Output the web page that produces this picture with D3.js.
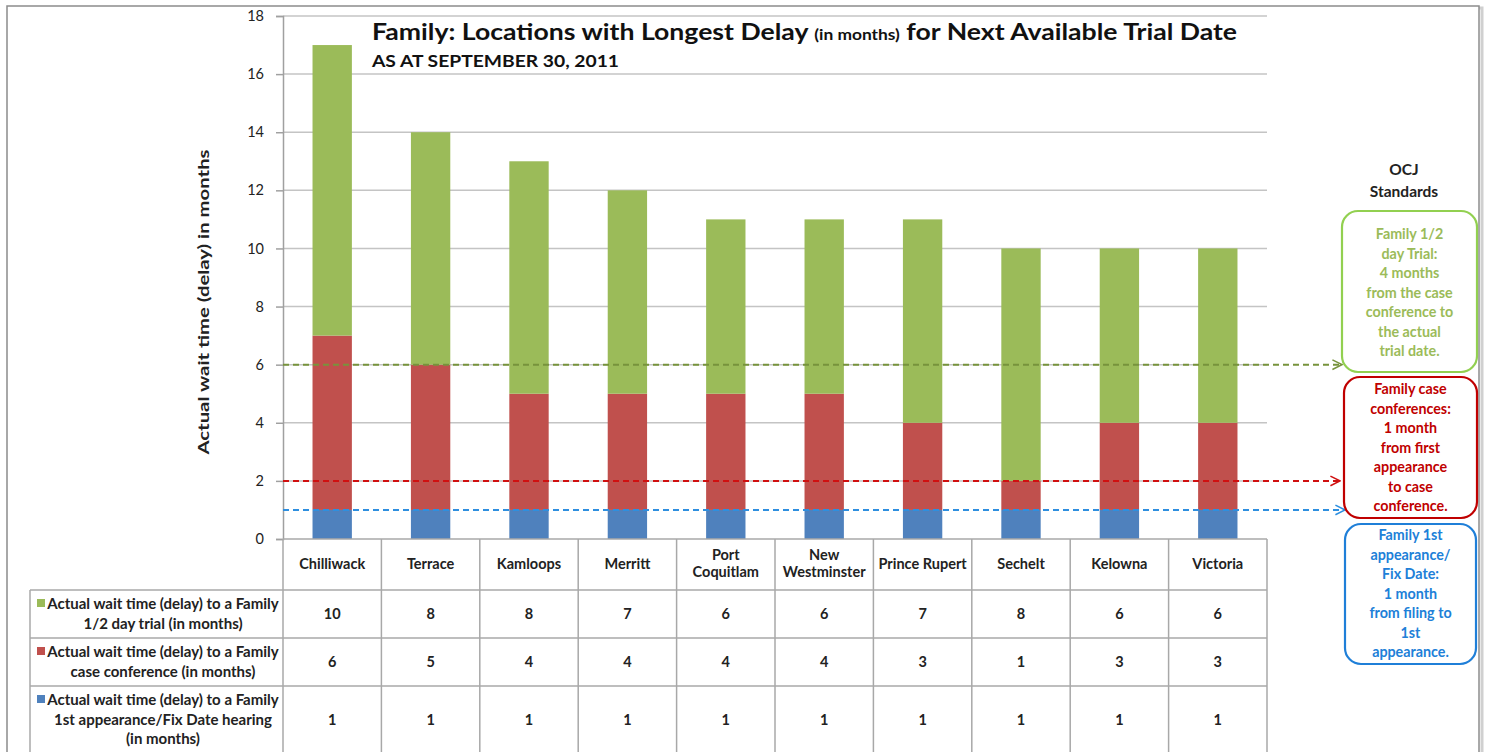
<!DOCTYPE html>
<html>
<head>
<meta charset="utf-8">
<script src="https://cdn.jsdelivr.net/npm/d3@7"></script>
<style>
  body { margin: 0; background: #fff; }
  svg { display: block; font-family: Lato, "Open Sans", sans-serif; }
</style>
</head>
<body>
<svg id="chart" width="1488" height="752"></svg>
<script>
// Data
const locations = ["Chilliwack", "Terrace", "Kamloops", "Merritt", "Port Coquitlam",
    "New Westminster", "Prince Rupert", "Sechelt", "Kelowna", "Victoria"];
const locationLines = [["Chilliwack"], ["Terrace"], ["Kamloops"], ["Merritt"], ["Port", "Coquitlam"],
    ["New", "Westminster"], ["Prince Rupert"], ["Sechelt"], ["Kelowna"], ["Victoria"]];
const firstAppearance = [1, 1, 1, 1, 1, 1, 1, 1, 1, 1];
const caseConference = [6, 5, 4, 4, 4, 4, 3, 1, 3, 3];
const halfDayTrial = [10, 8, 8, 7, 6, 6, 7, 8, 6, 6];
const yTicks = [0, 2, 4, 6, 8, 10, 12, 14, 16, 18];

const seriesNames = ["trial", "conference", "appearance"];
const seriesColors = { appearance: "#4F81BD", conference: "#C0504D", trial: "#9BBB59" };
const legendLines = {
    trial: ["Actual wait time (delay) to a Family", "1/2 day trial (in months)"],
    conference: ["Actual wait time (delay) to a Family", "case conference (in months)"],
    appearance: ["Actual wait time (delay) to a Family", "1st appearance/Fix Date hearing", "(in months)"]
};
const seriesValues = { trial: halfDayTrial, conference: caseConference, appearance: firstAppearance };

const standards = [
    { level: 6, color: "#77933C", text: "#9BBB59", box: "#92D050",
      lines: ["Family 1/2", "day Trial:", "4 months", "from the case", "conference to", "the actual", "trial date."] },
    { level: 2, color: "#D01010", text: "#C00000", box: "#C00000",
      lines: ["Family case", "conferences:", "1 month", "from first", "appearance", "to case", "conference."] },
    { level: 1, color: "#2E8FDF", text: "#2080D8", box: "#1F7FD8",
      lines: ["Family 1st", "appearance/", "Fix Date:", "1 month", "from filing to", "1st", "appearance."] }
];

const svg = d3.select("#chart");

// Outer frame
svg.append("rect").attr("x", 9).attr("y", 8).attr("width", 1473).attr("height", 760)
    .attr("fill", "none").attr("stroke", "#d0d0d0").attr("stroke-width", 3);
svg.append("rect").attr("x", 7).attr("y", 6).attr("width", 1472).attr("height", 760)
    .attr("fill", "#fff").attr("stroke", "#8c8c8c").attr("stroke-width", 1.5);

// Scales
const x = d3.scaleBand().domain(locations).range([283, 1267]).paddingInner(0.6).paddingOuter(0.3);
const y = d3.scaleLinear().domain([0, 18]).range([539, 16]);
const step = x.step();
const colLeft = d => x(d) - x.paddingInner() * step / 2;

// Gridlines
svg.append("g").selectAll("line").data(yTicks.filter(t => t > 0)).join("line")
    .attr("x1", 283).attr("x2", 1267)
    .attr("y1", d => y(d)).attr("y2", d => y(d))
    .attr("stroke", "#c4c4c4").attr("stroke-width", 1.5);

// Stacked bars
const rows = locations.map((loc, i) => ({
    loc, appearance: firstAppearance[i], conference: caseConference[i], trial: halfDayTrial[i]
}));
const stack = d3.stack().keys(["appearance", "conference", "trial"])(rows);
svg.append("g").selectAll("g").data(stack).join("g")
    .attr("fill", s => seriesColors[s.key])
    .selectAll("rect").data(s => s).join("rect")
    .attr("x", d => x(d.data.loc))
    .attr("width", x.bandwidth())
    .attr("y", d => y(d[1]))
    .attr("height", d => y(d[0]) - y(d[1]));

// Y axis
const yAxis = svg.append("g").attr("transform", "translate(283,0)")
    .call(d3.axisLeft(y).tickValues(yTicks).tickSize(7).tickPadding(12));
yAxis.select(".domain").attr("stroke", "#a0a0a0").attr("stroke-width", 1.5);
yAxis.selectAll(".tick line").attr("stroke", "#a0a0a0").attr("stroke-width", 1.5);
yAxis.selectAll(".tick text").attr("font-size", 14.5).attr("font-family", "Lato, sans-serif")
    .attr("fill", "#222");

svg.append("text")
    .attr("transform", "translate(209,302) rotate(-90)")
    .attr("text-anchor", "middle")
    .attr("font-size", 16).attr("font-weight", 700).attr("fill", "#222")
    .attr("textLength", 305).attr("lengthAdjust", "spacingAndGlyphs")
    .text("Actual wait time (delay) in months");

// Title
const title = svg.append("text").attr("x", 372).attr("y", 40)
    .attr("font-size", 23).attr("font-weight", 700).attr("fill", "#111")
    .attr("textLength", 865).attr("lengthAdjust", "spacingAndGlyphs");
title.append("tspan").text("Family: Locations with Longest Delay ");
title.append("tspan").attr("font-size", 15).text("(in months)");
title.append("tspan").text(" for Next Available Trial Date");
svg.append("text").attr("x", 372).attr("y", 67)
    .attr("font-size", 17).attr("font-weight", 700).attr("fill", "#111")
    .attr("textLength", 247).attr("lengthAdjust", "spacingAndGlyphs")
    .text("AS AT SEPTEMBER 30, 2011");

// Data table
const tableTop = 539, headBottom = 590, rowH = 48, tableBottom = 780, tableLeft = 30;
const grid = svg.append("g").attr("stroke", "#a8a8a8").attr("stroke-width", 1.5);
locations.forEach(loc => {
    grid.append("line").attr("x1", colLeft(loc)).attr("x2", colLeft(loc))
        .attr("y1", tableTop).attr("y2", tableBottom);
});
grid.append("line").attr("x1", 1267).attr("x2", 1267).attr("y1", tableTop).attr("y2", tableBottom);
grid.append("line").attr("x1", tableLeft).attr("x2", tableLeft).attr("y1", headBottom).attr("y2", tableBottom);
grid.append("line").attr("x1", 283).attr("x2", 1267).attr("y1", tableTop).attr("y2", tableTop);
[headBottom, headBottom + rowH, headBottom + 2 * rowH].forEach(ly => {
    grid.append("line").attr("x1", tableLeft).attr("x2", 1267).attr("y1", ly).attr("y2", ly);
});

// Header row: location names
locationLines.forEach((lines, i) => {
    const cx = x(locations[i]) + x.bandwidth() / 2;
    const y0 = lines.length === 1 ? 569 : 560;
    const t = svg.append("text").attr("text-anchor", "middle")
        .attr("font-size", 14.5).attr("font-weight", 700).attr("fill", "#222");
    lines.forEach((ln, j) => t.append("tspan").attr("x", cx).attr("y", y0 + j * 17).text(ln));
});

// Series rows
seriesNames.forEach((key, r) => {
    const top = headBottom + r * rowH;
    const lines = legendLines[key];
    const lh = 19.5;
    const firstY = top + 19;
    const t = svg.append("text").attr("text-anchor", "middle")
        .attr("font-size", 15).attr("font-weight", 700).attr("fill", "#222");
    lines.forEach((ln, j) => t.append("tspan").attr("x", 163).attr("y", firstY + j * lh).text(ln));
    svg.append("rect").attr("x", 37).attr("y", firstY - 10).attr("width", 8).attr("height", 8)
        .attr("fill", seriesColors[key]);
    const midY = key === "appearance" ? top + 39 : top + 29;
    svg.append("g").selectAll("text").data(seriesValues[key]).join("text")
        .attr("x", (d, i) => x(locations[i]) + x.bandwidth() / 2)
        .attr("y", midY)
        .attr("text-anchor", "middle")
        .attr("font-size", 14.5).attr("font-weight", 700).attr("fill", "#222")
        .text(d => d);
});

// Standard reference lines with arrows
const defs = svg.append("defs");
standards.forEach((s, i) => {
    defs.append("marker").attr("id", "arrow" + i)
        .attr("viewBox", "0 0 10 10").attr("refX", 9).attr("refY", 5)
        .attr("markerWidth", 12).attr("markerHeight", 12).attr("markerUnits", "userSpaceOnUse")
        .attr("orient", "auto")
        .append("path").attr("d", "M1,1 L9,5 L1,9")
        .attr("fill", "none").attr("stroke", s.color).attr("stroke-width", 1.3);
});
const arrowEnds = [1342, 1340, 1345];
svg.append("g").selectAll("line").data(standards).join("line")
    .attr("x1", 283).attr("x2", (d, i) => arrowEnds[i])
    .attr("y1", d => y(d.level)).attr("y2", d => y(d.level))
    .attr("stroke", d => d.color).attr("stroke-width", 2)
    .attr("stroke-dasharray", "6,4")
    .attr("marker-end", (d, i) => `url(#arrow${i})`);

// OCJ Standards boxes
svg.append("text").attr("x", 1404).attr("y", 175).attr("text-anchor", "middle")
    .attr("font-size", 15.5).attr("font-weight", 700).attr("fill", "#222").text("OCJ");
svg.append("text").attr("x", 1404).attr("y", 197).attr("text-anchor", "middle")
    .attr("font-size", 15.5).attr("font-weight", 700).attr("fill", "#222").text("Standards");

const boxes = [
    { x: 1342, y: 211, w: 135, h: 161, firstY: 239 },
    { x: 1344, y: 377, w: 133, h: 141, firstY: 394 },
    { x: 1345, y: 524, w: 131, h: 140, firstY: 540 }
];
standards.forEach((s, i) => {
    const b = boxes[i];
    svg.append("rect").attr("x", b.x).attr("y", b.y).attr("width", b.w).attr("height", b.h)
        .attr("rx", 16).attr("fill", "#fff").attr("stroke", s.box).attr("stroke-width", 2.2);
    const t = svg.append("text").attr("text-anchor", "middle")
        .attr("font-size", 14.3).attr("font-weight", 700).attr("fill", s.text);
    s.lines.forEach((ln, j) => t.append("tspan").attr("x", b.x + b.w / 2)
        .attr("y", b.firstY + j * 19.5).text(ln));
});
</script>
</body>
</html>
